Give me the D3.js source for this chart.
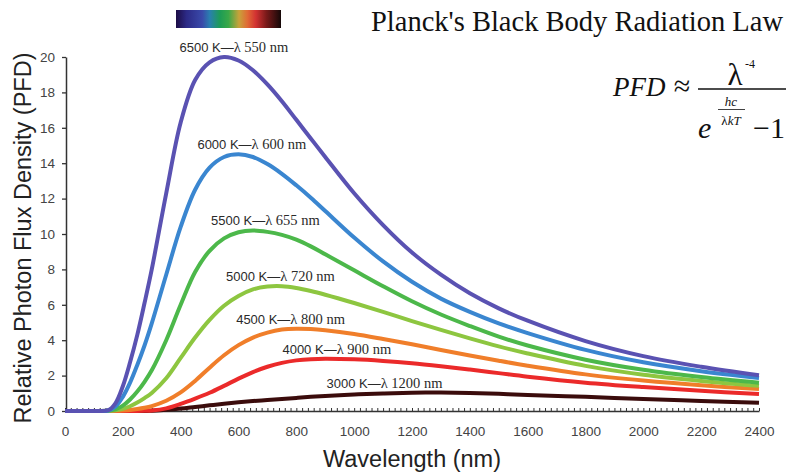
<!DOCTYPE html>
<html>
<head>
<meta charset="utf-8">
<script src="https://cdn.jsdelivr.net/npm/d3@7"></script>
<style>
  body { margin: 0; background: #fff; }
  svg { display: block; }
</style>
</head>
<body>
<svg id="chart" width="788" height="472"></svg>
<script>
// wavelengths (nm) that every curve is sampled at
const wavelengths = [0, 100, 150, 175, 200, 225, 250, 275, 300, 350, 400, 450, 500, 550, 600, 650, 700, 750, 800, 850, 900, 1000, 1100, 1200, 1300, 1400, 1500, 1600, 1800, 2000, 2200, 2400];

// relative photon flux density, one list per temperature
const pfd6500 = [0, 0, 0.05, 0.45, 1.4, 2.75, 4.3, 6.1, 8.0, 12.3, 16.3, 18.7, 19.7, 20.0, 19.8, 19.25, 18.45, 17.5, 16.45, 15.4, 14.35, 12.3, 10.5, 8.95, 7.7, 6.65, 5.8, 5.1, 3.95, 3.1, 2.5, 2.02];
const pfd6000 = [0, 0, 0.03, 0.25, 0.8, 1.6, 2.6, 3.7, 4.95, 7.7, 10.4, 12.5, 13.75, 14.35, 14.5, 14.35, 13.95, 13.4, 12.75, 12.05, 11.3, 9.8, 8.45, 7.3, 6.35, 5.6, 4.95, 4.4, 3.45, 2.75, 2.25, 1.87];
const pfd5500 = [0, 0, 0.02, 0.1, 0.3, 0.65, 1.1, 1.65, 2.3, 4.0, 6.0, 7.85, 9.05, 9.75, 10.1, 10.2, 10.12, 9.95, 9.68, 9.3, 8.85, 7.95, 7.05, 6.2, 5.45, 4.8, 4.2, 3.7, 2.9, 2.33, 1.92, 1.6];
const pfd5000 = [0, 0, 0.01, 0.04, 0.12, 0.27, 0.48, 0.73, 1.02, 1.85, 3.0, 4.15, 5.15, 5.95, 6.5, 6.87, 7.03, 7.05, 6.95, 6.78, 6.57, 6.1, 5.6, 5.08, 4.58, 4.1, 3.65, 3.25, 2.55, 2.05, 1.7, 1.42];
const pfd4500 = [0, 0, 0, 0.01, 0.03, 0.06, 0.11, 0.18, 0.28, 0.58, 1.05, 1.7, 2.45, 3.15, 3.72, 4.15, 4.43, 4.6, 4.65, 4.63, 4.56, 4.35, 4.07, 3.77, 3.45, 3.14, 2.84, 2.56, 2.07, 1.72, 1.45, 1.24];
const pfd4000 = [0, 0, 0, 0, 0, 0, 0, 0.01, 0.03, 0.15, 0.4, 0.7, 1.03, 1.42, 1.83, 2.2, 2.5, 2.72, 2.86, 2.93, 2.95, 2.92, 2.83, 2.7, 2.53, 2.34, 2.14, 1.94, 1.6, 1.35, 1.14, 0.96];
const pfd3000 = [0, 0, 0, 0, 0, 0, 0, 0, 0.02, 0.07, 0.14, 0.23, 0.32, 0.41, 0.49, 0.56, 0.62, 0.68, 0.74, 0.8, 0.85, 0.93, 0.99, 1.03, 1.04, 1.02, 0.97, 0.91, 0.8, 0.68, 0.57, 0.46];

const temperatures = ["6500 K", "6000 K", "5500 K", "5000 K", "4500 K", "4000 K", "3000 K"];
const peakTexts = ["λ 550 nm", "λ 600 nm", "λ 655 nm", "λ 720 nm", "λ 800 nm", "λ 900 nm", "λ 1200 nm"];
const curveColors = ["#5a52b2", "#3a86d0", "#4cb84a", "#8dc640", "#f07e2a", "#eb2a2a", "#3b0c0c"];
// where each curve label sits along the wavelength axis
const labelNm = [584, 646, 693, 745, 780, 940, 1105];

const xTickValues = [0, 200, 400, 600, 800, 1000, 1200, 1400, 1600, 1800, 2000, 2200, 2400];
const yTickValues = [0, 2, 4, 6, 8, 10, 12, 14, 16, 18, 20];

const series = [pfd6500, pfd6000, pfd5500, pfd5000, pfd4500, pfd4000, pfd3000].map((values, i) => ({
  temp: temperatures[i],
  peak: peakTexts[i],
  color: curveColors[i],
  labelAt: labelNm[i],
  points: wavelengths.map((w, j) => ({ w, v: values[j] })),
}));

const svg = d3.select("#chart");
const sans = "'Liberation Sans', Arial, Helvetica, sans-serif";
const serif = "'Liberation Serif', 'Times New Roman', Times, serif";

const x = d3.scaleLinear().domain([0, 2400]).range([65, 759]);
const y = d3.scaleLinear().domain([0, 20]).range([411, 57]);

// axes
const xAxisG = svg.append("g").attr("transform", `translate(0,${y(0)})`);
xAxisG.call(d3.axisBottom(x).tickValues(d3.range(0, 2401, 20)).tickSize(-3).tickSizeOuter(0).tickFormat(""));
xAxisG.call((g) => g.select(".domain").remove());
xAxisG.selectAll(".tick line").attr("stroke", "#333").attr("stroke-width", 1);

const xLabels = svg.append("g").attr("transform", `translate(0,${y(0)})`)
  .call(d3.axisBottom(x).tickValues(xTickValues).tickSize(0).tickPadding(15).tickFormat(d3.format("d")));
xLabels.select(".domain").attr("stroke", "#333").attr("stroke-width", 1.5);
xLabels.selectAll("text").attr("font-family", sans).attr("font-size", 13.5).attr("fill", "#444");

const yAxisG = svg.append("g").attr("transform", `translate(${x(0) + 1},0)`)
  .call(d3.axisLeft(y).tickValues(yTickValues).tickSize(4).tickSizeOuter(0).tickPadding(7));
yAxisG.select(".domain").attr("stroke", "#333").attr("stroke-width", 1.5);
yAxisG.selectAll(".tick line").attr("stroke", "#333").attr("stroke-width", 1.3);
yAxisG.selectAll("text").attr("font-family", sans).attr("font-size", 13.5).attr("fill", "#444");

// axis titles
svg.append("text")
  .attr("x", 412).attr("y", 467)
  .attr("text-anchor", "middle")
  .attr("font-family", sans).attr("font-size", 23.5).attr("fill", "#222")
  .text("Wavelength (nm)");

svg.append("text")
  .attr("transform", "translate(31,238) rotate(-90)")
  .attr("text-anchor", "middle")
  .attr("font-family", sans).attr("font-size", 23.5).attr("fill", "#222")
  .text("Relative Photon Flux Density (PFD)");

// curves, coolest first so the hottest ends up on top
const line = d3.line()
  .x((d) => x(d.w))
  .y((d) => y(d.v))
  .curve(d3.curveCatmullRom.alpha(0.5));

svg.append("g")
  .selectAll("path")
  .data(series.slice().reverse())
  .join("path")
  .attr("d", (d) => line(d.points))
  .attr("fill", "none")
  .attr("stroke", (d) => d.color)
  .attr("stroke-width", 4)
  .attr("stroke-linejoin", "round");

// curve labels just above each peak
const labels = svg.append("g")
  .selectAll("text")
  .data(series)
  .join("text")
  .attr("x", (d) => x(d.labelAt))
  .attr("y", (d) => y(d3.max(d.points, (p) => p.v)) - 5)
  .attr("text-anchor", "middle")
  .attr("fill", "#2a2a2a");
labels.append("tspan").attr("font-family", sans).attr("font-size", 13).text((d) => d.temp);
labels.append("tspan").attr("font-family", sans).attr("font-size", 13).text("—");
labels.append("tspan").attr("font-family", serif).attr("font-size", 14.5).text((d) => d.peak);

// spectrum swatch
const grad = svg.append("defs").append("linearGradient").attr("id", "spectrum");
[
  [0, "#1c0c45"], [0.1, "#2c2a86"], [0.25, "#3a4aaa"], [0.32, "#2a7fb0"],
  [0.42, "#1d9c55"], [0.5, "#3aa848"], [0.6, "#c8a23a"], [0.68, "#e06a35"],
  [0.76, "#d23232"], [0.86, "#7a1a1a"], [1, "#140808"],
].forEach(([o, c]) => grad.append("stop").attr("offset", o).attr("stop-color", c));
svg.append("rect")
  .attr("x", 176).attr("y", 10).attr("width", 105).attr("height", 18)
  .attr("fill", "url(#spectrum)");

// title
svg.append("text")
  .attr("x", 783).attr("y", 31)
  .attr("text-anchor", "end")
  .attr("font-family", serif).attr("font-size", 28.5).attr("fill", "#111")
  .text("Planck's Black Body Radiation Law");

// formula
const eq = svg.append("g").attr("font-family", serif).attr("fill", "#111");
eq.append("text").attr("x", 613).attr("y", 96).attr("font-size", 27).attr("font-style", "italic").text("PFD");
eq.append("text").attr("x", 682).attr("y", 96).attr("font-size", 30).attr("text-anchor", "middle").text("≈");
eq.append("line").attr("x1", 698).attr("x2", 786).attr("y1", 89).attr("y2", 89).attr("stroke", "#111").attr("stroke-width", 1.3);
eq.append("text").attr("x", 735).attr("y", 85).attr("font-size", 31).attr("text-anchor", "middle").text("λ");
eq.append("text").attr("x", 745).attr("y", 68).attr("font-size", 12).text("-4");
eq.append("text").attr("x", 698).attr("y", 138).attr("font-size", 30).attr("font-style", "italic").text("e");
eq.append("text").attr("x", 731).attr("y", 106).attr("font-size", 13).attr("font-style", "italic").attr("text-anchor", "middle").text("hc");
eq.append("line").attr("x1", 718).attr("x2", 745).attr("y1", 109.5).attr("y2", 109.5).attr("stroke", "#111").attr("stroke-width", 0.8);
const den = eq.append("text").attr("x", 731).attr("y", 125).attr("font-size", 13).attr("text-anchor", "middle");
den.append("tspan").text("λ");
den.append("tspan").attr("font-style", "italic").text("kT");
eq.append("text").attr("x", 753).attr("y", 138).attr("font-size", 30).text("−1");
</script>
</body>
</html>
